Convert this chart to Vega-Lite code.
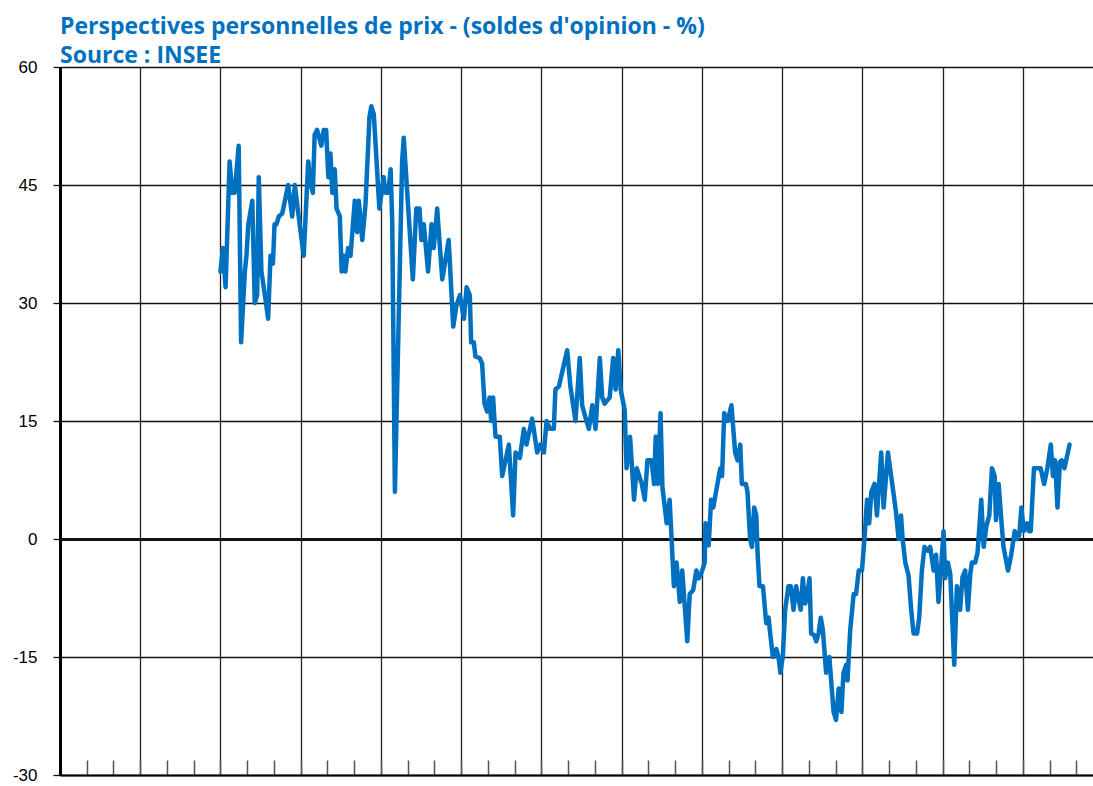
{
  "$schema": "https://vega.github.io/schema/vega-lite/v6.json",
  "autosize": {"type": "none"},
  "width": 1033,
  "height": 708,
  "padding": {"left": 60, "top": 67, "right": 0, "bottom": 11},
  "background": "white",
  "config": {"view": {"stroke": null}},
  "title": {
    "text": ["Perspectives personnelles de prix - (soldes d'opinion - %)", "Source : INSEE"],
    "anchor": "start",
    "frame": "group",
    "font": "Open Sans",
    "fontSize": 23,
    "fontWeight": "bold",
    "color": "#0070C0",
    "lineHeight": 29,
    "baseline": "alphabetic",
    "offset": 5,
    "dy": 33
  },
  "data": {"values": [
    {"t":1987.00,"v":34},{"t":1987.09,"v":37},{"t":1987.19,"v":32},{"t":1987.34,"v":48},{"t":1987.44,"v":44},{"t":1987.53,"v":44},{"t":1987.68,"v":50},{"t":1987.77,"v":25},{"t":1987.91,"v":34},{"t":1987.97,"v":36},
    {"t":1988.04,"v":40},{"t":1988.19,"v":43},{"t":1988.28,"v":30},{"t":1988.37,"v":31},{"t":1988.43,"v":46},{"t":1988.53,"v":34},{"t":1988.66,"v":31},{"t":1988.78,"v":28},{"t":1988.87,"v":36},{"t":1988.96,"v":35},
    {"t":1989.02,"v":40},{"t":1989.09,"v":40},{"t":1989.18,"v":41},{"t":1989.31,"v":41.4},{"t":1989.53,"v":45},{"t":1989.68,"v":41},{"t":1989.78,"v":45},{"t":1989.90,"v":41.6},
    {"t":1990.11,"v":36},{"t":1990.28,"v":48},{"t":1990.36,"v":45.4},{"t":1990.45,"v":44},{"t":1990.52,"v":51.4},{"t":1990.61,"v":52},{"t":1990.77,"v":50},{"t":1990.86,"v":52},{"t":1990.95,"v":52},
    {"t":1991.03,"v":46},{"t":1991.11,"v":49},{"t":1991.18,"v":44},{"t":1991.27,"v":47},{"t":1991.34,"v":42},{"t":1991.46,"v":41},{"t":1991.53,"v":34},{"t":1991.61,"v":36},{"t":1991.67,"v":34},{"t":1991.77,"v":37},{"t":1991.86,"v":36},
    {"t":1992.02,"v":43},{"t":1992.11,"v":39},{"t":1992.17,"v":43},{"t":1992.30,"v":38},{"t":1992.42,"v":42.5},{"t":1992.57,"v":53.7},{"t":1992.64,"v":55},{"t":1992.73,"v":54},{"t":1992.94,"v":42},
    {"t":1993.10,"v":46},{"t":1993.16,"v":44},{"t":1993.27,"v":44},{"t":1993.36,"v":47},{"t":1993.42,"v":40.3},{"t":1993.52,"v":6},{"t":1993.79,"v":48},{"t":1993.85,"v":51},
    {"t":1994.19,"v":33},{"t":1994.32,"v":42},{"t":1994.44,"v":42},{"t":1994.51,"v":38},{"t":1994.60,"v":40},{"t":1994.76,"v":34},{"t":1994.89,"v":40},{"t":1994.97,"v":37},
    {"t":1995.10,"v":42},{"t":1995.29,"v":33},{"t":1995.53,"v":38},{"t":1995.70,"v":27},{"t":1995.82,"v":29.7},{"t":1995.95,"v":31},
    {"t":1996.10,"v":28},{"t":1996.20,"v":32},{"t":1996.32,"v":31},{"t":1996.37,"v":25},{"t":1996.47,"v":25},{"t":1996.53,"v":23.2},{"t":1996.69,"v":23},{"t":1996.78,"v":22.3},{"t":1996.87,"v":17.2},{"t":1996.97,"v":16.2},
    {"t":1997.06,"v":18},{"t":1997.12,"v":15},{"t":1997.19,"v":18},{"t":1997.28,"v":13},{"t":1997.44,"v":13},{"t":1997.53,"v":8},{"t":1997.78,"v":12},{"t":1997.94,"v":3},
    {"t":1998.03,"v":11},{"t":1998.19,"v":10.3},{"t":1998.34,"v":14},{"t":1998.44,"v":12},{"t":1998.65,"v":15.3},{"t":1998.84,"v":11},{"t":1998.96,"v":12},
    {"t":1999.09,"v":11},{"t":1999.19,"v":15},{"t":1999.31,"v":14},{"t":1999.46,"v":14},{"t":1999.52,"v":19},{"t":1999.65,"v":19.4},{"t":1999.96,"v":24},
    {"t":2000.08,"v":19.4},{"t":2000.27,"v":15},{"t":2000.43,"v":23},{"t":2000.52,"v":17},{"t":2000.64,"v":15.5},{"t":2000.77,"v":14},{"t":2000.90,"v":17},
    {"t":2001.02,"v":14},{"t":2001.18,"v":23},{"t":2001.27,"v":18},{"t":2001.36,"v":17.2},{"t":2001.55,"v":18},{"t":2001.68,"v":23},{"t":2001.77,"v":19},{"t":2001.87,"v":24},{"t":2001.96,"v":19},
    {"t":2002.11,"v":16.4},{"t":2002.18,"v":9},{"t":2002.31,"v":13},{"t":2002.46,"v":5},{"t":2002.56,"v":9},{"t":2002.75,"v":7},{"t":2002.86,"v":5},{"t":2002.96,"v":10},
    {"t":2003.11,"v":10},{"t":2003.21,"v":7},{"t":2003.27,"v":13},{"t":2003.35,"v":7},{"t":2003.45,"v":16},{"t":2003.52,"v":6.6},{"t":2003.68,"v":2},{"t":2003.79,"v":5},{"t":2003.95,"v":-6},
    {"t":2004.05,"v":-3},{"t":2004.17,"v":-8},{"t":2004.26,"v":-4},{"t":2004.45,"v":-13},{"t":2004.54,"v":-7},{"t":2004.67,"v":-6.5},{"t":2004.79,"v":-4},{"t":2004.88,"v":-5},{"t":2004.98,"v":-4.3},
    {"t":2005.10,"v":-3},{"t":2005.13,"v":2},{"t":2005.25,"v":-0.8},{"t":2005.34,"v":5},{"t":2005.42,"v":4},{"t":2005.63,"v":8},{"t":2005.69,"v":9},{"t":2005.75,"v":8},{"t":2005.83,"v":16},{"t":2005.96,"v":15},
    {"t":2006.10,"v":17},{"t":2006.24,"v":11},{"t":2006.33,"v":10},{"t":2006.43,"v":12},{"t":2006.49,"v":7},{"t":2006.64,"v":7},{"t":2006.70,"v":6},{"t":2006.80,"v":0},{"t":2006.87,"v":-1},{"t":2006.95,"v":4},
    {"t":2007.03,"v":3},{"t":2007.08,"v":-2},{"t":2007.15,"v":-6},{"t":2007.28,"v":-6},{"t":2007.40,"v":-10.7},{"t":2007.49,"v":-10},{"t":2007.55,"v":-12},{"t":2007.65,"v":-15},{"t":2007.78,"v":-14},{"t":2007.86,"v":-15},{"t":2007.93,"v":-17},
    {"t":2008.02,"v":-15},{"t":2008.11,"v":-9},{"t":2008.23,"v":-6},{"t":2008.32,"v":-6},{"t":2008.42,"v":-9},{"t":2008.52,"v":-6},{"t":2008.60,"v":-7.5},{"t":2008.69,"v":-9},{"t":2008.77,"v":-5},{"t":2008.86,"v":-8.2},{"t":2008.94,"v":-7},
    {"t":2009.02,"v":-5},{"t":2009.08,"v":-12},{"t":2009.19,"v":-12.2},{"t":2009.27,"v":-13},{"t":2009.36,"v":-12},{"t":2009.44,"v":-10},{"t":2009.52,"v":-11.6},{"t":2009.64,"v":-17},{"t":2009.76,"v":-15},{"t":2009.92,"v":-22},
    {"t":2010.01,"v":-23},{"t":2010.11,"v":-19},{"t":2010.21,"v":-22},{"t":2010.29,"v":-17},{"t":2010.39,"v":-16},{"t":2010.44,"v":-18},{"t":2010.54,"v":-11.6},{"t":2010.67,"v":-7},{"t":2010.76,"v":-7},{"t":2010.86,"v":-4},{"t":2010.98,"v":-4},
    {"t":2011.08,"v":0.3},{"t":2011.17,"v":5},{"t":2011.25,"v":2},{"t":2011.33,"v":6},{"t":2011.45,"v":7},{"t":2011.54,"v":3},{"t":2011.70,"v":11},{"t":2011.79,"v":4},{"t":2011.95,"v":11},
    {"t":2012.10,"v":7.3},{"t":2012.25,"v":3.5},{"t":2012.35,"v":0},{"t":2012.44,"v":3},{"t":2012.50,"v":0},{"t":2012.60,"v":-3},{"t":2012.72,"v":-4.6},{"t":2012.82,"v":-9},{"t":2012.91,"v":-12},
    {"t":2013.04,"v":-12},{"t":2013.12,"v":-10},{"t":2013.22,"v":-4},{"t":2013.32,"v":-1},{"t":2013.45,"v":-1.5},{"t":2013.53,"v":-1},{"t":2013.66,"v":-4},{"t":2013.75,"v":-2},{"t":2013.84,"v":-8},{"t":2013.94,"v":-3.5},
    {"t":2014.03,"v":1},{"t":2014.09,"v":-5},{"t":2014.19,"v":-3},{"t":2014.28,"v":-4.4},{"t":2014.34,"v":-9},{"t":2014.43,"v":-16},{"t":2014.53,"v":-6},{"t":2014.65,"v":-9},{"t":2014.74,"v":-4.8},{"t":2014.84,"v":-4},{"t":2014.94,"v":-9},
    {"t":2015.03,"v":-4.4},{"t":2015.09,"v":-3},{"t":2015.21,"v":-3},{"t":2015.30,"v":-1.8},{"t":2015.44,"v":5},{"t":2015.53,"v":-1},{"t":2015.63,"v":1.6},{"t":2015.74,"v":3},{"t":2015.84,"v":9},{"t":2015.94,"v":8},{"t":2015.99,"v":2.4},
    {"t":2016.09,"v":7},{"t":2016.19,"v":2.4},{"t":2016.27,"v":-1},{"t":2016.44,"v":-4},{"t":2016.56,"v":-2},{"t":2016.69,"v":1},{"t":2016.78,"v":0},{"t":2016.86,"v":0.5},{"t":2016.94,"v":4},
    {"t":2017.03,"v":1},{"t":2017.16,"v":2},{"t":2017.22,"v":1},{"t":2017.29,"v":1},{"t":2017.41,"v":9},{"t":2017.54,"v":9},{"t":2017.66,"v":9},{"t":2017.79,"v":7},{"t":2017.91,"v":9},
    {"t":2018.04,"v":12},{"t":2018.12,"v":8},{"t":2018.20,"v":10},{"t":2018.29,"v":4},{"t":2018.38,"v":9.8},{"t":2018.45,"v":10},{"t":2018.55,"v":9},{"t":2018.74,"v":12}
  ]},
  "mark": {"type": "line", "color": "#0070C0", "strokeWidth": 4.5, "strokeJoin": "round", "strokeCap": "round"},
  "encoding": {
    "x": {
      "field": "t", "type": "quantitative",
      "scale": {"domain": [1981, 2019.617], "nice": false, "zero": false},
      "axis": {
        "title": null,
        "labels": false,
        "values": [1981,1982,1983,1984,1985,1986,1987,1988,1989,1990,1991,1992,1993,1994,1995,1996,1997,1998,1999,2000,2001,2002,2003,2004,2005,2006,2007,2008,2009,2010,2011,2012,2013,2014,2015,2016,2017,2018,2019],
        "grid": true,
        "gridColor": "#222",
        "gridWidth": 1.3,
        "gridOpacity": {"condition": {"test": "(datum.value - 1981) % 3 === 0", "value": 1}, "value": 0},
        "ticks": true,
        "tickSize": -15,
        "tickColor": "#555",
        "tickWidth": 1.5,
        "domain": true,
        "domainColor": "#000",
        "domainWidth": 2
      }
    },
    "y": {
      "field": "v", "type": "quantitative",
      "scale": {"domain": [-30, 60], "nice": false, "zero": false},
      "axis": {
        "title": null,
        "values": [-30, -15, 0, 15, 30, 45, 60],
        "labelExpr": "'' + datum.value",
        "grid": true,
        "gridColor": "#111",
        "gridWidth": {"condition": {"test": "datum.value === 0", "value": 3}, "value": 1.3},
        "ticks": true,
        "tickSize": 7,
        "tickColor": "#111",
        "tickWidth": 1.3,
        "domain": true,
        "domainColor": "#000",
        "domainWidth": 3,
        "labelFont": "Liberation Sans",
        "labelFontSize": 17,
        "labelColor": "#000",
        "labelPadding": 16
      }
    }
  }
}
